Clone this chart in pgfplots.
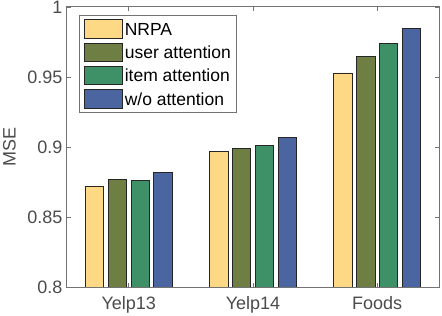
\documentclass[border=0pt]{standalone}
\usepackage{fontspec}
\setmainfont{Liberation Sans}
\usepackage{pgfplots}
\pgfplotsset{compat=1.18}
\definecolor{cYel}{RGB}{253,217,133}
\definecolor{cOli}{RGB}{111,127,68}
\definecolor{cGrn}{RGB}{62,145,103}
\definecolor{cBlu}{RGB}{74,101,160}
\definecolor{axgray}{RGB}{115,115,115}
\definecolor{txtgray}{RGB}{75,75,75}
\begin{document}
\begin{tikzpicture}
\begin{axis}[
  name=ax,
  scale only axis,
  width=372.6pt, height=280.3pt,
  ybar=4.5pt, bar width=18.3pt,
  ymin=0.8, ymax=1,
  xmin=0.5, xmax=3.5,
  xtick={1,2,3}, xticklabels={Yelp13,Yelp14,Foods},
  ytick={0.8,0.85,0.9,0.95,1},
  yticklabels={0.8,0.85,0.9,0.95,1},
  ylabel={MSE},
  tick align=inside,
  major tick length=4.5pt,
  axis on top,
  axis line style={axgray, line width=1pt},
  tick style={axgray, line width=0.8pt},
  every tick label/.append style={font=\fontsize{18}{20}\selectfont, text=txtgray},
  ylabel style={font=\fontsize{18}{20}\selectfont, text=txtgray, at={(rel axis cs:0,0.5)}, anchor=center, yshift=57.2pt},
  xticklabel style={yshift=-5.3pt},
  yticklabel style={xshift=-0.7pt},
  legend style={at={(0.0338,0.9716)}, anchor=north west, draw=axgray, line width=0.8pt,
    font=\fontsize{17.5}{19}\selectfont, text=black, inner sep=4pt, row sep=4.3pt,
    column sep=0pt,
    nodes={inner sep=2pt, text height=12.5pt, text depth=0pt},
    cells={anchor=west}},
  legend image code/.code={\draw[#1, draw=black!85, line width=0.7pt] (0pt,-9.15pt) rectangle (38.4pt,9.15pt);},
  legend cell align=left,
  enlarge x limits=false,
]
\addplot[fill=cYel, draw=black!85, line width=0.7pt] coordinates {(1,0.872) (2,0.897) (3,0.953)};
\addplot[fill=cOli, draw=black!85, line width=0.7pt] coordinates {(1,0.877) (2,0.899) (3,0.965)};
\addplot[fill=cGrn, draw=black!85, line width=0.7pt] coordinates {(1,0.876) (2,0.901) (3,0.974)};
\addplot[fill=cBlu, draw=black!85, line width=0.7pt] coordinates {(1,0.882) (2,0.907) (3,0.985)};
\legend{NRPA,user attention,item attention,w/o attention}
\end{axis}
\pgfresetboundingbox
\path[use as bounding box] ([xshift=-66.7pt,yshift=-28.7pt]ax.south west) rectangle ([xshift=2.7pt,yshift=7pt]ax.north east);
\end{tikzpicture}
\end{document}
